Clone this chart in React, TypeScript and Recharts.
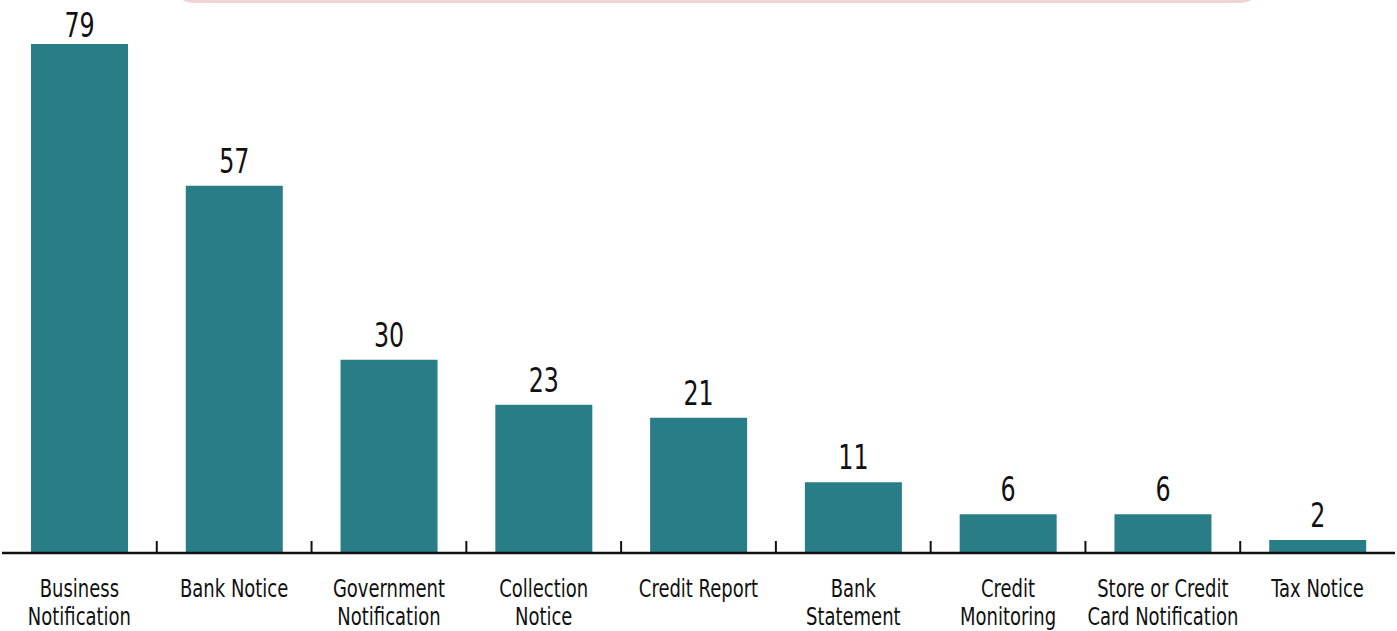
import React from "react";
import { BarChart, Bar, XAxis, YAxis, LabelList } from "recharts";

const categories = [
  "Business\nNotification",
  "Bank Notice",
  "Government\nNotification",
  "Collection\nNotice",
  "Credit Report",
  "Bank\nStatement",
  "Credit\nMonitoring",
  "Store or Credit\nCard Notification",
  "Tax Notice",
];
const counts = [79, 57, 30, 23, 21, 11, 6, 6, 2];

const data = categories.map((name, i) => ({ name, count: counts[i] }));

const FONT = "'DejaVu Sans Condensed', 'DejaVu Sans', sans-serif";
const TEAL = "#287d87";
const SQUEEZE = 0.8;

function CategoryTick(props: any) {
  const { x, y, payload, index, width, visibleTicksCount } = props;
  const band = width / visibleTicksCount;
  const lines = String(payload.value).split("\n");
  const isLast = index === visibleTicksCount - 1;
  return (
    <g>
      {!isLast && (
        <line x1={x + band / 2} x2={x + band / 2} y1={y - 12} y2={y} stroke="#111" strokeWidth={2} />
      )}
      <g transform={`translate(${x},${y}) scale(${SQUEEZE},1)`}>
        <text x={0} y={44} textAnchor="middle" fill="#111" fontSize={25} fontFamily={FONT}>
          {lines.map((l, i) => (
            <tspan key={i} x={0} dy={i === 0 ? 0 : 28}>
              {l}
            </tspan>
          ))}
        </text>
      </g>
    </g>
  );
}

function ValueLabel(props: any) {
  const { x, y, width, value } = props;
  // keep the tallest label inside the top edge
  const baseline = Math.max(y - 13, 37);
  return (
    <g transform={`translate(${x + width / 2},${baseline}) scale(${SQUEEZE},1)`}>
      <text x={0} y={0} textAnchor="middle" fill="#111" fontSize={33} fontFamily={FONT}>
        {value}
      </text>
    </g>
  );
}

export default function App() {
  return (
    <div style={{ position: "absolute", left: 0, top: 0, width: 1397, height: 631, background: "#fff", overflow: "hidden" }}>
      <div
        style={{
          position: "absolute",
          left: 172,
          top: -40,
          width: 1090,
          height: 43,
          borderRadius: 22,
          background: "#f1d3d3",
        }}
      />
      <BarChart width={1397} height={631} data={data} margin={{ top: 44, right: 2, left: 2, bottom: 0 }}>
        <XAxis
          dataKey="name"
          height={78}
          interval={0}
          tickLine={false}
          tickSize={0}
          tickMargin={0}
          axisLine={{ stroke: "#111", strokeWidth: 2.5 }}
          tick={<CategoryTick />}
        />
        <YAxis hide domain={[0, "dataMax"]} />
        <Bar dataKey="count" fill={TEAL} barSize={97} isAnimationActive={false}>
          <LabelList dataKey="count" content={<ValueLabel />} />
        </Bar>
      </BarChart>
    </div>
  );
}
